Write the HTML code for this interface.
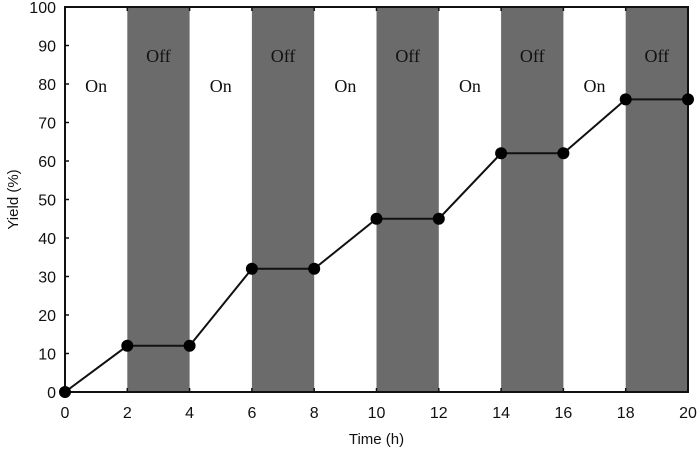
<!DOCTYPE html>
<html><head><meta charset="utf-8"><style>
body{margin:0;background:#fff;width:700px;height:457px;overflow:hidden}
svg{display:block}
</style></head><body>
<svg id="c" width="700" height="457"></svg>
<script>
const times=[0,2,4,6,8,10,12,14,16,18,20];
const yields=[0,12,12,32,32,45,45,62,62,76,76];
const xTicks=[0,2,4,6,8,10,12,14,16,18,20];
const yTicks=[0,10,20,30,40,50,60,70,80,90,100];
const offPeriods=[[2,4],[6,8],[10,12],[14,16],[18,20]];
const onPeriods=[[0,2],[4,6],[8,10],[12,14],[16,18]];
const L=65,R=688,T=7,B=392;
const X=v=>L+(v-0)/20*(R-L);
const Y=v=>B-(v/100)*(B-T);
const s=document.getElementById('c');const NS='http://www.w3.org/2000/svg';
function mk(t,a,p){const e=document.createElementNS(NS,t);for(const k in a)e.setAttribute(k,a[k]);(p||s).appendChild(e);return e;}
offPeriods.forEach((p,i)=>{
 const r=mk('rect',{x:X(p[0]),y:T,width:X(p[1])-X(p[0]),height:B-T,fill:'#6b6b6b'});
 
 
 const t=mk('text',{x:(X(p[0])+X(p[1]))/2,y:62,'text-anchor':'middle','font-family':'Liberation Serif, serif','font-size':18,fill:'#111'});
 t.textContent='Off';
 
 
});
onPeriods.forEach((p,i)=>{
 const t=mk('text',{x:(X(p[0])+X(p[1]))/2,y:92,'text-anchor':'middle','font-family':'Liberation Serif, serif','font-size':18,fill:'#111'});
 t.textContent='On';
 
 
});
const fr=mk('rect',{x:L,y:T,width:R-L,height:B-T,fill:'none',stroke:'#111','stroke-width':2});


xTicks.forEach(v=>{
 mk('line',{x1:X(v),x2:X(v),y1:B,y2:B-4,stroke:'#111','stroke-width':1.5});
 mk('line',{x1:X(v),x2:X(v),y1:T,y2:T+4,stroke:'#111','stroke-width':1.5});
 const t=mk('text',{x:X(v),y:B+26,'text-anchor':'middle','font-family':'Liberation Sans, sans-serif','font-size':16,fill:'#111'});
 t.textContent=v;
 
 
});
yTicks.forEach(v=>{
 mk('line',{x1:L,x2:L+4,y1:Y(v),y2:Y(v),stroke:'#111','stroke-width':1.5});
 const t=mk('text',{x:L-9,y:Y(v)+6,'text-anchor':'end','font-family':'Liberation Sans, sans-serif','font-size':16,fill:'#111'});
 t.textContent=v;
 
 
});
const xt=mk('text',{x:(L+R)/2,y:444,'text-anchor':'middle','font-family':'Liberation Sans, sans-serif','font-size':15,fill:'#111'});
xt.textContent='Time (h)';


const yt=mk('text',{x:0,y:0,transform:`translate(18,${(T+B)/2}) rotate(-90)`,'text-anchor':'middle','font-family':'Liberation Sans, sans-serif','font-size':15,fill:'#111'});
yt.textContent='Yield (%)';


const ln=mk('polyline',{points:times.map((t,i)=>X(t)+','+Y(yields[i])).join(' '),fill:'none',stroke:'#111','stroke-width':2});


times.forEach((t,i)=>{
 const c=mk('circle',{cx:X(t),cy:Y(yields[i]),r:6,fill:'#000'});
 
 
});
</script>
</body></html>
